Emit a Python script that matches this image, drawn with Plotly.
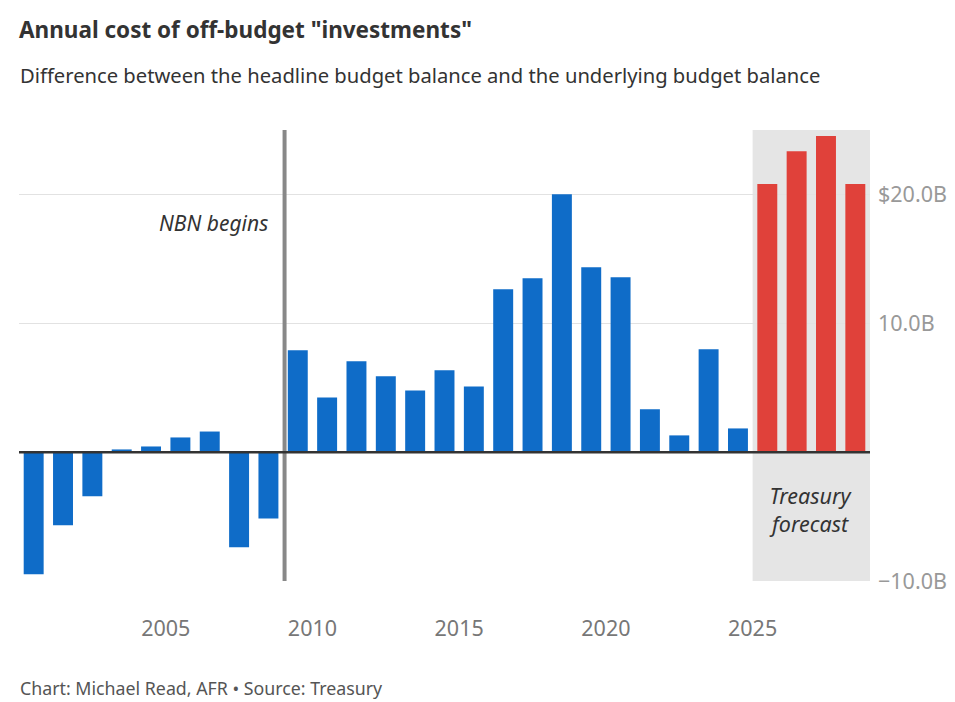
import plotly.graph_objects as go

# Data: fiscal-year bars, centred mid-year (2000.5 = year ending 2001)
years_hist = [2000.5, 2001.5, 2002.5, 2003.5, 2004.5, 2005.5, 2006.5, 2007.5, 2008.5,
              2009.5, 2010.5, 2011.5, 2012.5, 2013.5, 2014.5, 2015.5, 2016.5, 2017.5,
              2018.5, 2019.5, 2020.5, 2021.5, 2022.5, 2023.5, 2024.5]
values_hist = [-9.48, -5.68, -3.43, 0.21, 0.44, 1.14, 1.6, -7.39, -5.14,
               7.9, 4.25, 7.05, 5.88, 4.79, 6.35, 5.1, 12.64, 13.5,
               20.02, 14.35, 13.57, 3.32, 1.3, 7.98, 1.84]
years_fc = [2025.5, 2026.5, 2027.5, 2028.5]
values_fc = [20.8, 23.36, 24.53, 20.8]

x_tickvals = [2005, 2010, 2015, 2020, 2025]
x_ticktext = ["2005", "2010", "2015", "2020", "2025"]
y_tickvals = [-10, 10, 20]
y_ticktext = ["\u221210.0B", "10.0B", "$20.0B"]

nbn_year = 2009.05
forecast_start, forecast_end = 2025.0, 2029.0

FONT = "Noto Sans"
BLUE = "#0f6cc8"
RED = "#e0413a"

fig = go.Figure()
fig.add_trace(go.Bar(x=years_hist, y=values_hist, marker_color=BLUE,
                     marker_line_width=0, width=0.68, hoverinfo="x+y"))
fig.add_trace(go.Bar(x=years_fc, y=values_fc, marker_color=RED,
                     marker_line_width=0, width=0.68, hoverinfo="x+y"))

# forecast shading
fig.add_shape(type="rect", xref="x", yref="y", x0=forecast_start, x1=forecast_end,
              y0=-10, y1=25, fillcolor="#e5e5e5", line_width=0, layer="below")
# NBN line
fig.add_shape(type="line", xref="x", yref="y", x0=nbn_year, x1=nbn_year,
              y0=-10, y1=25, line=dict(color="#888888", width=4), layer="above")
# zero line
fig.add_shape(type="line", xref="x", yref="y", x0=2000, x1=2029, y0=0, y1=0,
              line=dict(color="#333333", width=2.5), layer="above")

fig.add_annotation(x=nbn_year - 0.5, y=17.75, xref="x", yref="y", text="NBN begins",
                   showarrow=False, xanchor="right", yanchor="middle",
                   font=dict(family=FONT, size=21, color="#333333", style="italic"))
fig.add_annotation(x=(forecast_start + forecast_end) / 2, y=-4.45, xref="x", yref="y",
                   text="Treasury<br>forecast", showarrow=False,
                   xanchor="center", yanchor="middle",
                   font=dict(family=FONT, size=21.5, color="#333333", style="italic"))

fig.update_layout(
    width=955, height=702,
    margin=dict(l=19, r=85, t=130, b=121, autoexpand=False),
    paper_bgcolor="white", plot_bgcolor="white",
    showlegend=False, bargap=0.32,
    font=dict(family=FONT, color="#333333"),
    title=dict(text="<b>Annual cost of off-budget \"investments\"</b>",
               x=19 / 955, xanchor="left", xref="container",
               y=1 - 30 / 702, yanchor="middle", yref="container",
               font=dict(family=FONT, size=22.5, color="#333333")),
    xaxis=dict(range=[2000, 2029], tickvals=x_tickvals, ticktext=x_ticktext,
               showgrid=False, zeroline=False, showline=False, ticks="",
               ticklabelstandoff=32, automargin=False,
               tickfont=dict(family=FONT, size=21.5, color="#777777")),
    yaxis=dict(range=[-10, 25], side="right", tickvals=y_tickvals, ticktext=y_ticktext,
               showgrid=True, gridcolor="#e2e2e2", gridwidth=1, zeroline=False,
               showline=False, ticks="", ticklabelstandoff=7, automargin=False,
               tickfont=dict(family=FONT, size=21.5, color="#999999")),
)

plot_h = 702 - 130 - 121
plot_w = 955 - 19 - 85

def px_to_paper(xpx, ypx):
    return (xpx - 19) / plot_w, (702 - 121 - ypx) / plot_h

sx, sy = px_to_paper(18, 75)
fig.add_annotation(x=sx, y=sy, xref="paper", yref="paper",
                   text="Difference between the headline budget balance and the underlying budget balance",
                   showarrow=False, xanchor="left", yanchor="middle",
                   font=dict(family=FONT, size=20.2, color="#333333"))
fx, fy = px_to_paper(18, 688)
fig.add_annotation(x=fx, y=fy, xref="paper", yref="paper",
                   text="Chart: Michael Read, AFR \u2022 Source: Treasury",
                   showarrow=False, xanchor="left", yanchor="middle",
                   font=dict(family=FONT, size=17.8, color="#555555"))

fig.write_html("out.html")
